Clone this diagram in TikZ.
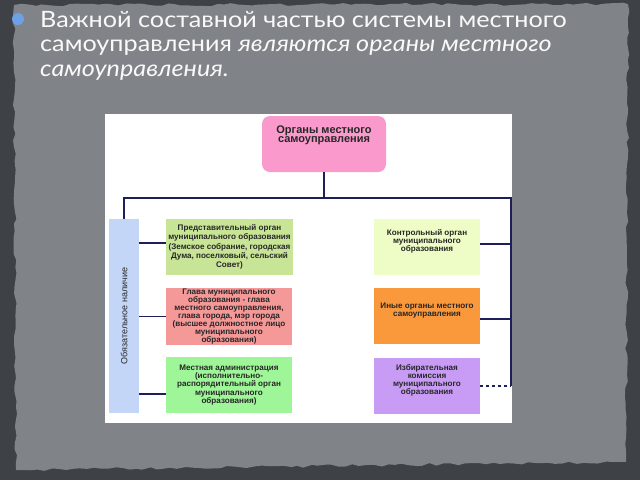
\documentclass[tikz,border=0pt]{standalone}
\usepackage{fontspec}
\setmainfont{Liberation Sans}
\newfontfamily\slidefont[FakeStretch=1.12]{Lato}
\usetikzlibrary{positioning}
\usetikzlibrary{decorations.pathmorphing}

\definecolor{slideout}{RGB}{62,65,70}
\definecolor{slidein}{RGB}{128,131,136}
\definecolor{navyline}{RGB}{30,30,90}
\definecolor{pinkorg}{RGB}{250,154,204}
\definecolor{greenyel}{RGB}{200,228,150}
\definecolor{redorg}{RGB}{245,152,152}
\definecolor{greenorg}{RGB}{158,246,152}
\definecolor{paleyel}{RGB}{238,252,198}
\definecolor{orangeorg}{RGB}{250,152,60}
\definecolor{purpleorg}{RGB}{200,156,245}
\definecolor{bluebar}{RGB}{196,214,248}
\definecolor{bulletblue}{RGB}{110,160,230}

\tikzset{
  orgbox/.style={inner sep=0pt, align=center, text=black!85,
    font=\fontsize{8.1}{9.2}\selectfont\bfseries},
  link/.style={draw=navyline, line width=1.1pt},
  titleline/.style={anchor=base west, inner sep=0pt, text=white!95!gray,
    font=\slidefont\fontsize{22.5}{24}\selectfont}
}

\begin{document}
\begin{tikzpicture}[x=1pt,y=-1pt]
  \useasboundingbox (0,0) rectangle (640,480);
  \fill[slideout] (0,0) rectangle (640,480);
  \fill[slidein, decorate, decoration={random steps,segment length=7pt,amplitude=1.5pt}]
    (14,5) -- (628,4) -- (626,462) -- (16,470) -- cycle;

  % Titel
  \fill[bulletblue] (18,19) circle (6);
  \node[titleline] (t1) at (40,27) {Важной составной частью системы местного};
  \node[titleline] (t2) at (40,51.5) {самоуправления \textit{являются органы местного}};
  \node[titleline] (t3) at (40,76) {\textit{самоуправления.}};

  % Schema
  \fill[white] (105,114) rectangle (512,423);
  \node[orgbox, fill=pinkorg, rounded corners=8pt, minimum width=124pt, minimum height=56pt,
    font=\fontsize{11}{9.5}\selectfont\bfseries] (top) at (324,144)
    {Органы местного\\самоуправления\\[10pt]};
  \node[orgbox, fill=bluebar, minimum width=30pt, minimum height=194pt] (bar) at (124,316) {};
  \node[rotate=90, text=black!85, font=\fontsize{9}{9}\selectfont] (barlabel) at (bar.center) {Обязательное наличие};

  \node[orgbox, fill=greenyel, minimum width=127pt, minimum height=56pt] (rep) at (229.5,247)
    {Представительный орган\\муниципального образования\\(Земское собрание, городская\\Дума, поселковый, сельский\\Совет)};
  \node[orgbox, fill=redorg, minimum width=126pt, minimum height=57pt,
    font=\fontsize{8.1}{7.9}\selectfont\bfseries] (head) at (229,316.5)
    {Глава муниципального\\образования - глава\\местного самоуправления,\\глава города, мэр города\\(высшее должностное лицо\\муниципального\\образования)};
  \node[orgbox, fill=greenorg, minimum width=126pt, minimum height=56pt,
    font=\fontsize{8.1}{8.4}\selectfont\bfseries] (admin) at (229,385)
    {Местная администрация\\(исполнительно-\\распорядительный орган\\муниципального\\образования)};

  \node[orgbox, fill=paleyel, minimum width=106pt, minimum height=56pt,
    font=\fontsize{8.1}{8}\selectfont\bfseries] (ctrl) at (427,247)
    {Контрольный орган\\муниципального\\образования\\[6pt]};
  \node[orgbox, fill=orangeorg, minimum width=106pt, minimum height=56pt,
    font=\fontsize{8.1}{8}\selectfont\bfseries] (other) at (427,316)
    {Иные органы местного\\самоуправления\\[4pt]};
  \node[orgbox, fill=purpleorg, minimum width=106pt, minimum height=56pt,
    font=\fontsize{8.1}{8}\selectfont\bfseries] (elect) at (427,386)
    {Избирательная\\комиссия\\муниципального\\образования\\[4pt]};

  \coordinate (hub) at (324,198);
  \coordinate (lt) at (124,198);
  \coordinate (rt) at (511,198);
  \coordinate (rb) at (511,386);

  \draw[link] (top.south) -- (hub);
  \draw[link] (bar.north) -- (lt) -- (rt) -- (rb);
  \foreach \b/\dy in {rep/4,head/0,admin/-9}
    \draw[link] ([yshift=\dy pt]\b.west -| bar.east) -- ([yshift=\dy pt]\b.west);
  \foreach \b/\dy in {ctrl/3,other/-3}
    \draw[link] ([yshift=\dy pt]\b.east) -- ([yshift=\dy pt]\b.east -| rt);
  \draw[link, dashed] (elect.east) -- (rb);
\end{tikzpicture}
\end{document}
